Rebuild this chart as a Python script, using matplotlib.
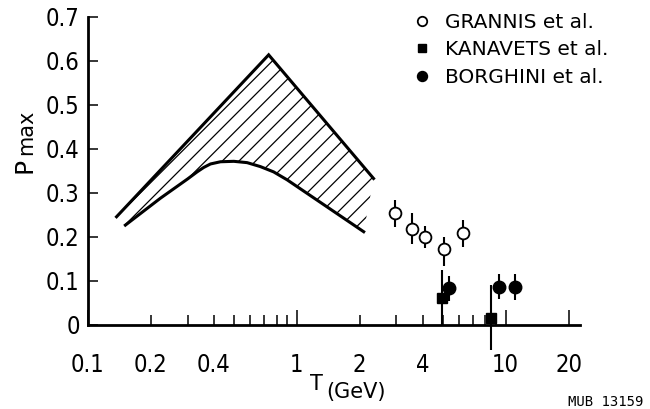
import numpy as np
import matplotlib
matplotlib.use("Agg")
import matplotlib.pyplot as plt

# ---- data ----
grannis_T = [2.96, 3.58, 4.09, 5.04, 6.28]
grannis_P = [0.254, 0.2175, 0.201, 0.172, 0.208]
grannis_lo = [0.031, 0.034, 0.025, 0.038, 0.030]
grannis_hi = [0.031, 0.036, 0.025, 0.027, 0.030]

kanavets_T = [4.95, 8.52]
kanavets_P = [0.061, 0.017]
kanavets_err = [0.064, 0.074]

borghini_T = [5.37, 9.31, 11.1]
borghini_P = [0.083, 0.087, 0.087]
borghini_err = [0.029, 0.028, 0.030]

upper_T = [0.137, 0.733, 2.33]
upper_P = [0.246, 0.614, 0.333]
lower_T = [0.151, 0.222, 0.300, 0.333, 0.358, 0.386, 0.431, 0.499, 0.578, 0.669,
           0.774, 0.898, 1.39, 2.09]
lower_P = [0.227, 0.288, 0.332, 0.348, 0.358, 0.366, 0.371, 0.372, 0.369, 0.360,
           0.348, 0.330, 0.269, 0.212]

major_ticks = [0.1, 1, 10, 20]
major_labels = ["0.1", "1", "10", "20"]
minor_ticks = [0.2, 0.3, 0.4, 0.5, 0.6, 0.7, 0.8, 0.9, 2, 3, 4, 5, 6, 7, 8, 9]
minor_labels = ["0.2", "", "0.4", "", "", "", "", "", "2", "", "4", "", "", "", "", ""]
y_ticks = [0, 0.1, 0.2, 0.3, 0.4, 0.5, 0.6, 0.7]
y_labels = ["0", "0.1", "0.2", "0.3", "0.4", "0.5", "0.6", "0.7"]

legend_labels = ["GRANNIS et al.", "KANAVETS et al.", "BORGHINI et al."]

# ---- figure ----
plt.rcParams['font.family'] = ['DejaVu Sans']
plt.rcParams['hatch.linewidth'] = 0.9
W, H = 650, 409
fig = plt.figure(figsize=(6.5, 4.09), dpi=100)
ax = fig.add_axes([88 / W, (H - 325) / H, (580 - 88) / W, (325 - 17) / H])
ax.set_xscale('log')
ax.set_xlim(0.1, 22.7)
ax.set_ylim(0, 0.7)

for s in ['top', 'right']:
    ax.spines[s].set_visible(False)
for s in ['left', 'bottom']:
    ax.spines[s].set_linewidth(2.0)

# hatched band
poly_T = np.concatenate([upper_T, lower_T[::-1]])
poly_P = np.concatenate([upper_P, lower_P[::-1]])
ax.fill(poly_T, poly_P, facecolor='none', edgecolor='black', hatch='//', linewidth=0)
ax.plot(upper_T, upper_P, color='black', lw=2.2, solid_joinstyle='miter')
ax.plot(lower_T, lower_P, color='black', lw=2.2)

g = ax.errorbar(grannis_T, grannis_P, yerr=[grannis_lo, grannis_hi], fmt='o',
                mfc='white', mec='black', mew=1.3, ms=8.5, ecolor='black',
                elinewidth=1.5, capsize=0, zorder=3)
k = ax.errorbar(kanavets_T, kanavets_P, yerr=kanavets_err, fmt='s',
                mfc='black', mec='black', ms=7, ecolor='black',
                elinewidth=1.5, capsize=0, zorder=3)
b = ax.errorbar(borghini_T, borghini_P, yerr=borghini_err, fmt='o',
                mfc='black', mec='black', ms=9, ecolor='black',
                elinewidth=1.5, capsize=0, zorder=3)
for cont in (g, k, b):
    cont[0].set_clip_on(False)
    for c in cont[2]:
        c.set_clip_on(False)

# ticks
tick_kw = dict(fontfamily=['DejaVu Sans'], fontstretch='condensed', fontsize=17)
ax.set_xticks(major_ticks)
ax.set_xticklabels(major_labels, **tick_kw)
ax.set_xticks(minor_ticks, minor=True)
ax.set_xticklabels(minor_labels, minor=True, **tick_kw)
ax.set_yticks(y_ticks)
ax.set_yticklabels(y_labels, **tick_kw)
ax.tick_params(axis='x', which='major', direction='in', length=11, width=1.1, pad=20)
ax.tick_params(axis='x', which='minor', direction='in', length=7, width=1.1, pad=20)
ax.tick_params(axis='y', which='major', direction='in', length=7, width=1.1, pad=6)

# axis labels
fig.text(310 / W, 1 - 390 / H, "T", fontsize=15, ha='left', va='baseline')
fig.text(326 / W, 1 - 398 / H, "(GeV)", fontsize=15, ha='left', va='baseline')
fig.text(32 / W, 1 - 173 / H, "P", fontsize=18, rotation=90,
         rotation_mode='anchor', ha='left', va='baseline')
fig.text(32 / W, 1 - 155 / H, "max", fontsize=15, rotation=90,
         rotation_mode='anchor', ha='left', va='baseline')
fig.text(568 / W, 1 - 406 / H, "MUB 13159", fontsize=10, family='DejaVu Sans Mono',
         ha='left', va='baseline')

ax.legend([g[0], k[0], b[0]], legend_labels, frameon=False, loc='upper left',
          bbox_to_anchor=(412 / W, 1 - 13 / H), bbox_transform=fig.transFigure,
          borderaxespad=0, borderpad=0, handlelength=1.0, handletextpad=0.65,
          labelspacing=0.42, markerscale=0.8, numpoints=1,
          prop={'family': 'DejaVu Sans', 'size': 14.5})

fig.savefig('out.png', dpi=100)
